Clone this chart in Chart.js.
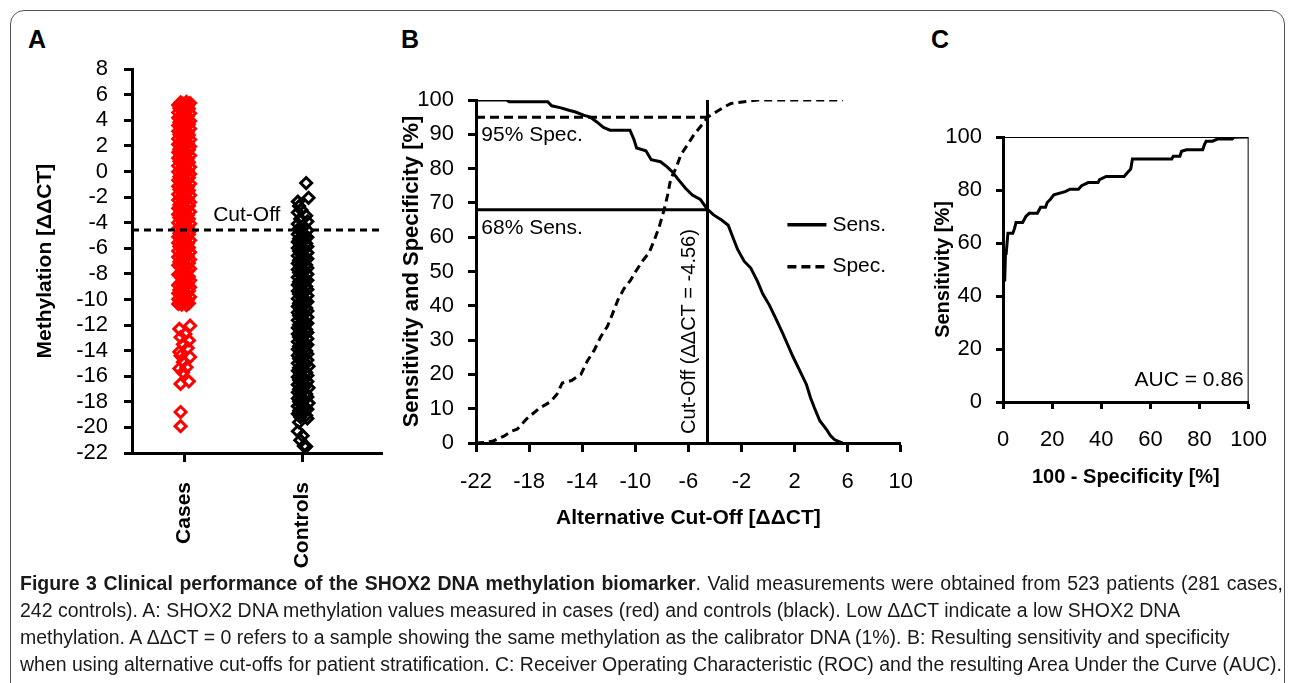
<!DOCTYPE html>
<html>
<head>
<meta charset="utf-8">
<script src="https://cdn.jsdelivr.net/npm/chart.js@4.4.1/dist/chart.umd.min.js"></script>
<style>
  html, body { margin: 0; padding: 0; background: #fff; width: 1295px; height: 683px; overflow: hidden; }
  body { position: relative; font-family: "Liberation Sans", Arial, sans-serif; }
  .frame { position: absolute; left: 10px; top: 10px; width: 1275px; height: 760px; border: 1px solid #555; border-radius: 14px; box-sizing: border-box; }
  .panel { position: absolute; }
  .letter { position: absolute; top: 27px; font: bold 25px/25px "Liberation Sans", Arial, sans-serif; color: #000; }
  .cap { position: absolute; left: 20px; height: 27px; line-height: 27px; white-space: nowrap; font-family: "Liberation Sans Narrow", "Liberation Sans", sans-serif; font-size: 20px; color: #1a1a1a; }
  .cap span { display: inline-block; transform-origin: 0 50%; }
</style>
</head>
<body>
<div class="frame"></div>
<div class="letter" style="left:28px">A</div>
<div class="letter" style="left:401px">B</div>
<div class="letter" style="left:931px">C</div>

<canvas id="chartA" class="panel" width="380" height="560" style="left:20px;top:40px"></canvas>
<canvas id="chartB" class="panel" width="540" height="490" style="left:390px;top:60px"></canvas>
<canvas id="chartC" class="panel" width="360" height="460" style="left:925px;top:60px"></canvas>

<div class="cap" style="top:570px"><span data-w="1263"><b>Figure 3 Clinical performance of the SHOX2 DNA methylation biomarker</b>. Valid measurements were obtained from 523 patients (281 cases,</span></div>
<div class="cap" style="top:597px"><span>242 controls). A: SHOX2 DNA methylation values measured in cases (red) and controls (black). Low ΔΔCT indicate a low SHOX2 DNA</span></div>
<div class="cap" style="top:624px"><span>methylation. A ΔΔCT = 0 refers to a sample showing the same methylation as the calibrator DNA (1%). B: Resulting sensitivity and specificity</span></div>
<div class="cap" style="top:651px"><span data-w="1262">when using alternative cut-offs for patient stratification. C: Receiver Operating Characteristic (ROC) and the resulting Area Under the Curve (AUC).</span></div>

<script>
// ---- data ----
const cutOff = -4.56;
const sensAtCutOff = 68;
const specAtCutOff = 95;

const groupPositions = [1, 2];
const groupLabels = ["Cases", "Controls"];

// [jittered group position, ΔΔCT]
const casePoints = [
  [1.02,5.45],[0.97,5.4],[1.05,5.35],[0.99,5.3],[0.95,5.2],[1.03,5.15],[1.0,5.05],[0.96,4.95],[1.04,4.9],[0.98,4.8],
  [1.01,4.7],[0.95,4.62],[1.05,4.55],[0.99,4.45],[0.97,4.35],[1.03,4.3],[0.95,4.2],[1.02,4.1],[0.98,4.0],[1.05,3.95],
  [0.96,3.85],[1.0,3.75],[1.04,3.7],[0.95,3.6],[1.01,3.5],[0.97,3.42],[1.05,3.35],[0.99,3.25],[0.95,3.15],[1.03,3.1],
  [1.0,3.0],[0.96,2.9],[1.04,2.85],[0.98,2.75],[1.02,2.65],[0.95,2.55],[1.05,2.5],[0.99,2.4],[0.97,2.3],[1.03,2.22],
  [0.95,2.12],[1.01,2.05],[1.05,1.95],[0.98,1.85],[0.96,1.75],[1.04,1.7],[1.0,1.6],[0.95,1.5],[1.02,1.42],[0.97,1.35],
  [1.05,1.25],[0.99,1.15],[0.95,1.05],[1.03,1.0],[1.0,0.9],[0.96,0.8],[1.04,0.72],[0.98,0.62],[1.02,0.55],[0.95,0.45],
  [1.05,0.35],[0.99,0.25],[0.97,0.15],[1.03,0.08],[0.95,-0.02],[1.01,-0.1],[1.05,-0.2],[0.98,-0.3],[0.96,-0.4],[1.04,-0.48],
  [1.0,-0.58],[0.95,-0.68],[1.02,-0.75],[0.97,-0.85],[1.05,-0.95],[0.99,-1.05],[0.95,-1.15],[1.03,-1.2],[1.0,-1.3],[0.96,-1.4],
  [1.04,-1.48],[0.98,-1.58],[1.02,-1.68],[0.95,-1.78],[1.05,-1.85],[0.99,-1.95],[0.97,-2.05],[1.03,-2.12],[0.95,-2.22],[1.01,-2.3],
  [1.05,-2.4],[0.98,-2.5],[0.96,-2.6],[1.04,-2.68],[1.0,-2.78],[0.95,-2.88],[1.02,-2.95],[0.97,-3.05],[1.05,-3.15],[0.99,-3.25],
  [0.95,-3.35],[1.03,-3.42],[1.0,-3.52],[0.96,-3.62],[1.04,-3.7],[0.98,-3.8],[1.02,-3.9],[0.95,-4.0],[1.05,-4.08],[0.99,-4.18],
  [0.97,-4.28],[1.03,-4.35],[0.95,-4.45],[1.01,-4.55],[1.05,-4.65],[0.98,-4.72],[0.96,-4.82],[1.04,-4.92],[1.0,-5.0],[0.95,-5.1],
  [1.02,-5.2],[0.97,-5.28],[1.05,-5.38],[0.99,-5.48],[0.95,-5.58],[1.03,-5.65],[1.0,-5.75],[0.96,-5.85],[1.04,-5.95],[0.98,-6.02],
  [1.02,-6.12],[0.95,-6.22],[1.05,-6.3],[0.99,-6.4],[0.97,-6.5],[1.03,-6.6],[0.95,-6.68],[1.01,-6.78],[1.05,-6.88],[0.98,-6.95],
  [0.96,-7.05],[1.04,-7.15],[1.0,-7.22],[0.95,-7.32],[1.02,-7.42],[0.97,-7.5],[1.05,-7.6],[0.99,-7.7],[1.03,-7.78],[0.95,-8.05],
  [1.0,-7.9],[0.97,-8.15],[1.04,-8.22],[0.98,-8.32],[1.02,-8.42],[1.05,-8.5],[0.99,-8.6],[0.97,-8.7],[1.03,-8.78],[0.95,-8.88],
  [1.01,-8.98],[1.05,-9.05],[0.98,-9.15],[0.96,-9.25],[1.04,-9.32],[1.0,-9.42],[0.95,-9.52],[1.02,-9.6],[0.97,-9.7],[1.05,-9.8],
  [0.99,-9.88],[0.95,-9.98],[1.03,-10.05],[1.0,-10.15],[0.96,-10.25],[1.04,-10.3],[0.98,-10.4],[0.95,-10.35],[1.02,-10.45],
  [0.96,-12.3],[1.05,-12.05],[1.01,-12.7],[0.97,-12.95],[1.04,-13.2],[0.99,-13.5],[1.03,-13.8],[0.96,-14.1],[0.97,-14.4],
  [1.05,-14.5],[0.99,-14.9],[0.96,-15.4],[1.02,-15.3],[0.99,-15.7],[0.97,-16.6],[1.04,-16.4],[0.97,-18.8],[0.97,-19.9]
];

const controlPoints = [
  [2.03,-0.9],[2.05,-2.05],[1.96,-2.35],[1.97,-2.7],
  [1.99,-3.0],[1.96,-3.2],[2.03,-3.45],[1.98,-3.7],[2.04,-3.9],[1.96,-4.1],[2.01,-4.3],[1.97,-4.45],[2.04,-4.6],[1.99,-4.75],
  [1.96,-4.9],[2.02,-5.02],[2.04,-5.14],[1.97,-5.26],[2.0,-5.38],[1.96,-5.5],[2.03,-5.62],[1.98,-5.74],[2.04,-5.86],[1.96,-5.98],
  [2.01,-6.1],[1.97,-6.22],[2.04,-6.34],[1.99,-6.46],[1.96,-6.58],[2.02,-6.7],[2.04,-6.82],[1.97,-6.94],[2.0,-7.06],[1.96,-7.18],
  [2.03,-7.3],[1.98,-7.42],[2.04,-7.54],[1.96,-7.66],[2.01,-7.78],[1.97,-7.9],[2.04,-8.02],[1.99,-8.14],[1.96,-8.26],[2.02,-8.38],
  [2.04,-8.5],[1.97,-8.62],[2.0,-8.74],[1.96,-8.86],[2.03,-8.98],[1.98,-9.1],[2.04,-9.22],[1.96,-9.34],[2.01,-9.46],[1.97,-9.58],
  [2.04,-9.7],[1.99,-9.82],[1.96,-9.94],[2.02,-10.06],[2.04,-10.18],[1.97,-10.3],[2.0,-10.42],[1.96,-10.54],[2.03,-10.66],[1.98,-10.78],
  [2.04,-10.9],[1.96,-11.02],[2.01,-11.14],[1.97,-11.26],[2.04,-11.38],[1.99,-11.5],[1.96,-11.62],[2.02,-11.74],[2.04,-11.86],[1.97,-11.98],
  [2.0,-12.1],[1.96,-12.22],[2.03,-12.34],[1.98,-12.46],[2.04,-12.58],[1.96,-12.7],[2.01,-12.82],[1.97,-12.94],[2.04,-13.06],[1.99,-13.18],
  [1.96,-13.3],[2.02,-13.42],[2.04,-13.54],[1.97,-13.66],[2.0,-13.78],[1.96,-13.9],[2.03,-14.02],[1.98,-14.14],[2.04,-14.26],[1.96,-14.38],
  [2.01,-14.5],[1.97,-14.62],[2.04,-14.74],[1.99,-14.86],[1.96,-14.98],[2.02,-15.1],[2.05,-15.22],[1.97,-15.34],[2.0,-15.46],[1.96,-15.58],
  [2.03,-15.7],[1.98,-15.82],[2.04,-15.94],[1.96,-16.06],[2.01,-16.18],[1.97,-16.3],[2.04,-16.42],[1.99,-16.54],[1.96,-16.66],[2.02,-16.78],
  [2.05,-16.9],[1.97,-17.02],[2.0,-17.14],[1.96,-17.26],[2.03,-17.38],[1.98,-17.5],[2.04,-17.62],[1.96,-17.74],[2.01,-17.86],[1.97,-17.98],
  [2.05,-18.1],[1.99,-18.22],[1.96,-18.34],[2.02,-18.46],[2.04,-18.58],[1.97,-18.7],[2.0,-18.82],[1.96,-18.94],[2.03,-19.06],[1.98,-19.18],
  [2.04,-19.3],[1.97,-19.6],[1.96,-20.3],[2.0,-20.65],[1.98,-21.0],[2.01,-21.45],[2.03,-21.5]
];

// [alternative cut-off ΔΔCT, %]
const sensCurve = [
  [-21.9,100],[-19.7,100],[-19.5,99.5],[-16.6,99.5],[-16.3,98.3],[-15.6,97.7],[-15.0,97.0],[-14.5,96.5],[-13.9,95.6],
  [-13.4,95.0],[-12.9,93.6],[-12.4,92.0],[-11.9,91.2],[-10.4,91.2],[-10.1,88.5],[-9.9,86.0],[-9.2,85.2],[-8.8,82.6],
  [-8.1,82.0],[-7.6,80.5],[-7.2,79.0],[-6.8,77.0],[-6.2,74.2],[-5.7,72.3],[-5.1,71.0],[-4.6,68.3],[-4.1,66.5],
  [-3.5,65.0],[-3.0,63.5],[-2.7,60.5],[-2.3,56.5],[-1.8,53.0],[-1.3,51.0],[-0.8,47.2],[-0.4,43.5],[0.1,40.2],
  [0.6,36.2],[1.1,32.0],[1.5,28.5],[1.9,25.0],[2.4,21.0],[2.9,17.0],[3.2,13.2],[3.5,10.2],[3.9,6.5],[4.4,4.0],
  [4.7,2.2],[5.0,1.0],[5.3,0.5],[5.6,0]
];
const specCurve = [
  [-22,0],[-21.3,0.2],[-20.7,0.6],[-19.9,2.0],[-19.3,3.5],[-18.9,4.0],[-18.2,7.0],[-17.2,10.2],[-16.4,12.0],
  [-15.9,14.2],[-15.5,17.5],[-14.8,18.2],[-14.1,20.0],[-13.6,24.0],[-13.1,27.0],[-12.6,31.0],[-12.1,34.0],
  [-11.7,37.8],[-11.3,41.8],[-10.85,45.0],[-10.35,47.5],[-9.97,50.0],[-9.47,53.0],[-8.96,55.5],[-8.58,59.0],
  [-8.2,63.0],[-7.83,68.0],[-7.58,72.0],[-7.33,77.0],[-6.95,80.0],[-6.57,84.0],[-6.06,87.0],[-5.56,90.0],
  [-4.93,93.0],[-4.48,95.2],[-3.92,96.5],[-3.29,98.0],[-2.79,99.0],[-1.78,99.5],[-0.77,100],[5.65,100]
];

// [100 - specificity, sensitivity]
const rocCurve = [
  [0,0],[0,46],[0.7,46],[1,56],[1.3,56],[2,63.7],[4,63.7],[4.7,65.5],[5.3,67.7],[8,67.7],[9.3,70],[10.7,71.2],
  [14,71.2],[15.3,73.5],[17.3,73.5],[18,75.3],[19.3,76.5],[20.7,78.2],[25.3,79.4],[27.3,80.3],[30.7,80.3],
  [32,81.6],[34.7,82.8],[38.7,82.8],[39.3,83.9],[42,85.1],[49.3,85.1],[50.7,86.6],[52,87.9],[52.7,91.7],
  [68.7,91.7],[69.3,92.7],[72,92.7],[72.7,94.6],[74.7,95.2],[81.3,95.2],[82,97.1],[82.7,98.4],[85.3,98.4],
  [87.3,99.2],[93.3,99.2],[94,99.9],[100,100]
];
const aucText = "AUC = 0.86";

// ---- helpers ----
const FONT = '"Liberation Sans", Arial, sans-serif';
Chart.defaults.font.family = FONT;
Chart.defaults.color = "#000";

const toXY = (pairs) => pairs.map(([x, y]) => ({ x, y }));

function tickGrid(len) {
  return { drawOnChartArea: false, drawTicks: true, tickLength: len, tickWidth: 3, tickColor: "#000" };
}
const axisBorder = { display: true, color: "#000", width: 3 };

// draws free text, small line legends and the thin plot frame
const overlayPlugin = {
  id: "overlay",
  beforeDatasetsDraw(chart, _a, opts) {
    if (!opts.box) return;
    const { ctx, chartArea: ca } = chart;
    ctx.save();
    ctx.strokeStyle = "#000";
    ctx.lineWidth = 1;
    ctx.beginPath();
    ctx.moveTo(ca.left, ca.top + 0.5);
    ctx.lineTo(ca.right - 0.5, ca.top + 0.5);
    ctx.lineTo(ca.right - 0.5, ca.bottom);
    ctx.stroke();
    ctx.restore();
  },
  afterDatasetsDraw(chart, _a, opts) {
    const { ctx, scales } = chart;
    const sx = scales.x, sy = scales.y;
    ctx.save();
    ctx.fillStyle = "#000";
    ctx.strokeStyle = "#000";
    for (const k of opts.keys || []) {
      const py = sy.getPixelForValue(k.y);
      ctx.setLineDash(k.dash || []);
      ctx.lineWidth = 3.5;
      ctx.beginPath();
      ctx.moveTo(sx.getPixelForValue(k.x0), py);
      ctx.lineTo(sx.getPixelForValue(k.x1), py);
      ctx.stroke();
      ctx.setLineDash([]);
      ctx.font = opts.font;
      ctx.textAlign = "left";
      ctx.textBaseline = "middle";
      ctx.fillText(k.text, sx.getPixelForValue(k.x1) + 6, py);
    }
    for (const t of opts.labels || []) {
      ctx.font = t.font || opts.font;
      ctx.textAlign = t.align || "left";
      ctx.textBaseline = "middle";
      ctx.save();
      ctx.translate(sx.getPixelForValue(t.x), sy.getPixelForValue(t.y));
      if (t.rotate) ctx.rotate(t.rotate);
      ctx.fillText(t.text, 0, 0);
      ctx.restore();
    }
    ctx.restore();
  }
};

// ---- A: methylation scatter ----
new Chart(document.getElementById("chartA"), {
  type: "scatter",
  data: {
    datasets: [
      {
        data: toXY([[0.56, cutOff], [2.67, cutOff]]),
        showLine: true, borderColor: "#000", borderWidth: 3, borderDash: [7, 5], pointRadius: 0
      },
      {
        data: toXY(casePoints),
        pointStyle: "rectRot", pointRadius: 5.5, borderWidth: 3,
        borderColor: "#ff0000", backgroundColor: "rgba(0,0,0,0)"
      },
      {
        data: toXY(controlPoints),
        pointStyle: "rectRot", pointRadius: 5.5, borderWidth: 3,
        borderColor: "#000", backgroundColor: "rgba(0,0,0,0)"
      }
    ]
  },
  options: {
    responsive: false,
    animation: false,
    layout: { padding: { left: 0, top: 27, right: 18, bottom: 17 } },
    plugins: {
      legend: { display: false },
      tooltip: { enabled: false },
      overlay: {
        font: "21px " + FONT,
        labels: [{ text: "Cut-Off", x: 1.245, y: -3.4 }]
      }
    },
    scales: {
      x: {
        type: "linear", min: 0.56, max: 2.67,
        afterBuildTicks: (s) => { s.ticks = groupPositions.map((v) => ({ value: v })); },
        afterFit: (s) => { s.height = 130; },
        grid: tickGrid(9),
        border: axisBorder,
        ticks: {
          minRotation: 90, maxRotation: 90, padding: 20, autoSkip: false,
          font: { size: 21, weight: "bold" },
          callback: (v) => groupLabels[groupPositions.indexOf(v)] ?? ""
        }
      },
      y: {
        min: -22, max: 8,
        afterFit: (s) => { s.width = 112; },
        grid: tickGrid(8),
        border: axisBorder,
        ticks: { stepSize: 2, padding: 16, autoSkip: false, font: { size: 22 } },
        title: { display: true, text: "Methylation [ΔΔCT]", font: { size: 21, weight: "bold" }, padding: { top: 13, bottom: 0 } }
      }
    }
  },
  plugins: [overlayPlugin]
});

// ---- B: sensitivity / specificity vs cut-off ----
new Chart(document.getElementById("chartB"), {
  type: "scatter",
  data: {
    datasets: [
      {
        data: toXY([[cutOff, 0], [cutOff, 100]]),
        showLine: true, borderColor: "#000", borderWidth: 3, pointRadius: 0
      },
      {
        data: toXY([[-22, sensAtCutOff], [cutOff, sensAtCutOff]]),
        showLine: true, borderColor: "#000", borderWidth: 3, pointRadius: 0
      },
      {
        data: toXY([[-22, specAtCutOff], [cutOff, specAtCutOff]]),
        showLine: true, borderColor: "#000", borderWidth: 3, borderDash: [9, 5], pointRadius: 0
      },
      {
        label: "Sens.",
        data: toXY(sensCurve),
        showLine: true, borderColor: "#000", borderWidth: 3, pointRadius: 0
      },
      {
        label: "Spec.",
        data: toXY(specCurve),
        showLine: true, borderColor: "#000", borderWidth: 3, borderDash: [8, 5], pointRadius: 0
      }
    ]
  },
  options: {
    responsive: false,
    animation: false,
    layout: { padding: { left: 0, top: 40, right: 19, bottom: 19 } },
    plugins: {
      legend: { display: false },
      tooltip: { enabled: false },
      overlay: {
        font: "21px " + FONT,
        keys: [
          { text: "Sens.", x0: 1.46, x1: 4.4, y: 63.6 },
          { text: "Spec.", x0: 1.46, x1: 4.4, y: 51.4, dash: [9, 5] }
        ],
        labels: [
          { text: "95% Spec.", x: -21.6, y: 89.6 },
          { text: "68% Sens.", x: -21.6, y: 62.6 },
          { text: "Cut-Off (ΔΔCT = -4.56)", x: -5.92, y: 32.5, align: "center", rotate: -Math.PI / 2, font: "20px " + FONT }
        ]
      }
    },
    scales: {
      x: {
        type: "linear", min: -22, max: 10,
        afterFit: (s) => { s.height = 88; },
        grid: tickGrid(9),
        border: axisBorder,
        ticks: { stepSize: 4, padding: 17, autoSkip: false, maxRotation: 0, font: { size: 22 } },
        title: { display: true, text: "Alternative Cut-Off [ΔΔCT]", font: { size: 21, weight: "bold" }, padding: { top: 0, bottom: 0 } }
      },
      y: {
        min: 0, max: 100,
        afterFit: (s) => { s.width = 86; },
        grid: tickGrid(8),
        border: axisBorder,
        ticks: { stepSize: 10, padding: 14, autoSkip: false, font: { size: 22 } },
        title: { display: true, text: "Sensitivity and Specificity [%]", font: { size: 22, weight: "bold" }, padding: { top: 9, bottom: 0 } }
      }
    }
  },
  plugins: [overlayPlugin]
});

// ---- C: ROC ----
new Chart(document.getElementById("chartC"), {
  type: "scatter",
  data: {
    datasets: [
      {
        data: toXY(rocCurve),
        showLine: true, borderColor: "#000", borderWidth: 3, pointRadius: 0
      }
    ]
  },
  options: {
    responsive: false,
    animation: false,
    layout: { padding: { left: 0, top: 77, right: 32, bottom: 31 } },
    plugins: {
      legend: { display: false },
      tooltip: { enabled: false },
      overlay: {
        box: true,
        font: "21px " + FONT,
        labels: [{ text: aucText, x: 98, y: 8.3, align: "right" }]
      }
    },
    scales: {
      x: {
        type: "linear", min: 0, max: 100,
        afterFit: (s) => { s.height = 87; },
        grid: tickGrid(7),
        border: axisBorder,
        ticks: { stepSize: 20, padding: 18, autoSkip: false, maxRotation: 0, font: { size: 22 } },
        title: { display: true, text: "100 - Specificity [%]", font: { size: 20, weight: "bold" }, padding: { top: 0, bottom: 0 } }
      },
      y: {
        min: 0, max: 100,
        afterFit: (s) => { s.width = 78; },
        grid: tickGrid(7),
        border: axisBorder,
        ticks: { stepSize: 20, padding: 14, autoSkip: false, font: { size: 22 } },
        title: { display: true, text: "Sensitivity [%]", font: { size: 20, weight: "bold" }, padding: { top: 6, bottom: 0 } }
      }
    }
  },
  plugins: [overlayPlugin]
});

// caption: one common horizontal squeeze (taken from the last, justified,
// all-regular line); justified lines get word spacing to reach their width
const capLines = Array.from(document.querySelectorAll(".cap span"));
const ref = capLines[capLines.length - 1];
const squeeze = Number(ref.dataset.w) / ref.getBoundingClientRect().width;
capLines.forEach((s) => {
  if (s.dataset.w) {
    const w = s.getBoundingClientRect().width;
    const spaces = (s.textContent.match(/ /g) || []).length;
    const extra = Number(s.dataset.w) / squeeze - w;
    if (spaces > 0) s.style.wordSpacing = `${extra / spaces}px`;
  }
  s.style.transform = `scaleX(${squeeze})`;
});
</script>
</body>
</html>
